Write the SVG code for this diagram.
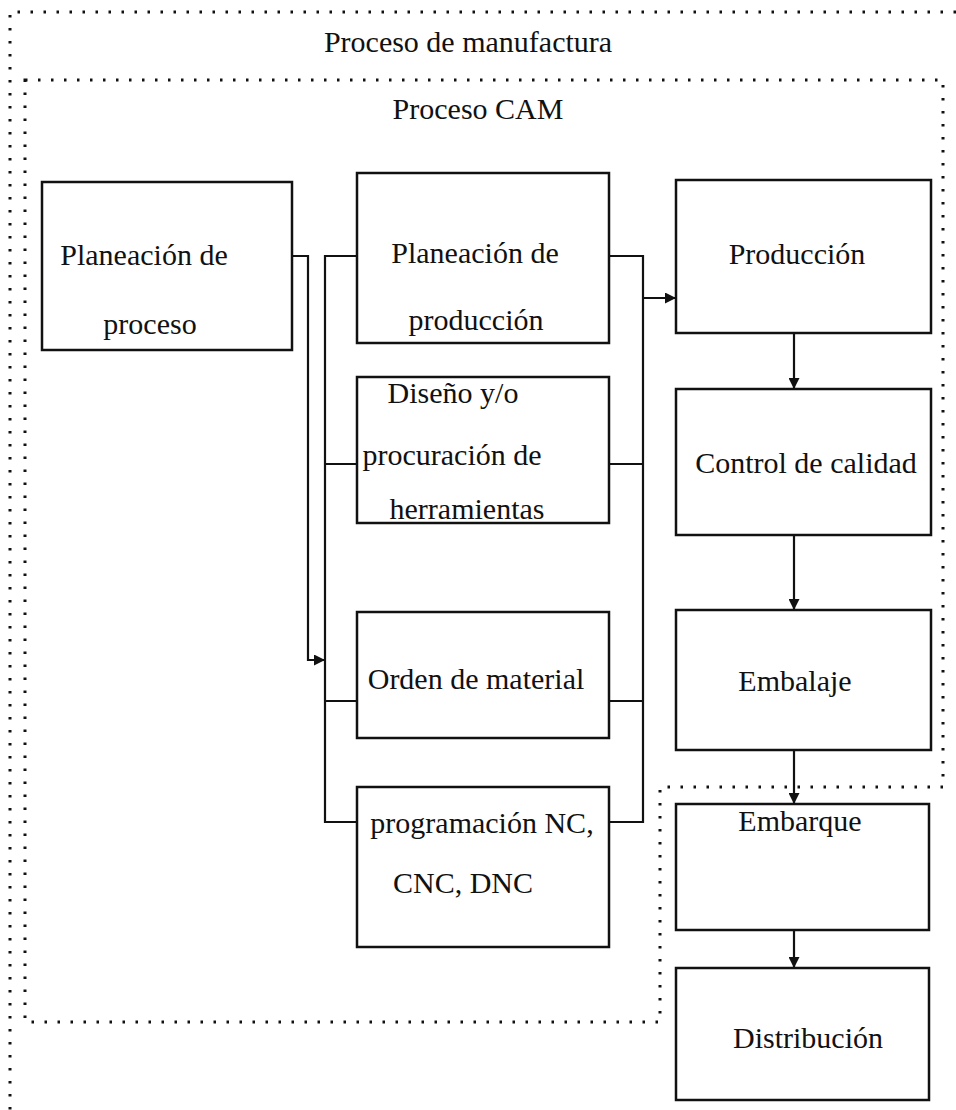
<svg xmlns="http://www.w3.org/2000/svg" width="956" height="1110" viewBox="0 0 956 1110">
  <style>
    .box { fill: #ffffff; stroke: #111111; stroke-width: 2.5; }
    .lbl { font-family: "Liberation Serif", "Times New Roman", serif; font-size: 30px; fill: #111111; text-anchor: middle; }
    .dots { fill: none; stroke: #111111; stroke-width: 3; stroke-dasharray: 2.5 10.5; }
    .wire { fill: none; stroke: #111111; stroke-width: 2.2; }
    .arrow { fill: none; stroke: #111111; stroke-width: 2.2; marker-end: url(#head); }
  </style>
  <defs>
    <marker id="head" viewBox="0 0 10 10" refX="10" refY="5" markerWidth="11" markerHeight="11" markerUnits="userSpaceOnUse" orient="auto">
      <path d="M0,0 L10,5 L0,10 Z" fill="#111111"/>
    </marker>
  </defs>
  <rect width="956" height="1110" fill="#ffffff"/>

  <!-- Dotted process boundaries -->
  <g id="manufactura">
    <path class="dots" d="M956,12 H10 V1110"/>
    <text class="lbl" x="468" y="52">Proceso de manufactura</text>
  </g>
  <g id="cam">
    <path class="dots" d="M25,80 H943 V787 H660 V1022 H25 Z"/>
    <text class="lbl" x="478" y="119">Proceso CAM</text>
  </g>

  <!-- Connectors -->
  <g id="connectors">
    <path class="arrow" d="M292,256 H308 V660 H325"/>
    <path class="wire" d="M357,256 H325 V822 H357 M325,464 H357 M325,701 H357"/>
    <path class="wire" d="M609,256 H643 V822 H609 M609,464 H643 M609,701 H643"/>
    <path class="arrow" d="M643,298 H676"/>
    <path class="arrow" d="M794,333 V389"/>
    <path class="arrow" d="M794,535 V610"/>
    <path class="arrow" d="M794,750 V804"/>
    <path class="arrow" d="M794,930 V968"/>
  </g>

  <!-- Nodes -->
  <g id="planeacion-proceso">
    <rect class="box" x="42" y="182" width="250" height="168"/>
    <text class="lbl" x="144" y="265">Planeación de</text>
    <text class="lbl" x="150" y="334">proceso</text>
  </g>
  <g id="planeacion-produccion">
    <rect class="box" x="357" y="173" width="252" height="170"/>
    <text class="lbl" x="475" y="263">Planeación de</text>
    <text class="lbl" x="476" y="330">producción</text>
  </g>
  <g id="diseno-herramientas">
    <rect class="box" x="357" y="377" width="252" height="146"/>
    <text class="lbl" x="453" y="403">Diseño y/o</text>
    <text class="lbl" x="452" y="465">procuración de</text>
    <text class="lbl" x="467" y="519">herramientas</text>
  </g>
  <g id="orden-material">
    <rect class="box" x="357" y="612" width="252" height="126"/>
    <text class="lbl" x="476" y="689">Orden de material</text>
  </g>
  <g id="programacion-nc">
    <rect class="box" x="357" y="787" width="252" height="160"/>
    <text class="lbl" x="482" y="833">programación NC,</text>
    <text class="lbl" x="463" y="893">CNC, DNC</text>
  </g>
  <g id="produccion">
    <rect class="box" x="676" y="180" width="255" height="153"/>
    <text class="lbl" x="797" y="264">Producción</text>
  </g>
  <g id="control-calidad">
    <rect class="box" x="676" y="389" width="255" height="146"/>
    <text class="lbl" x="806" y="473">Control de calidad</text>
  </g>
  <g id="embalaje">
    <rect class="box" x="676" y="610" width="255" height="140"/>
    <text class="lbl" x="795" y="691">Embalaje</text>
  </g>
  <g id="embarque">
    <rect class="box" x="676" y="804" width="253" height="126"/>
    <text class="lbl" x="800" y="831">Embarque</text>
  </g>
  <g id="distribucion">
    <rect class="box" x="676" y="968" width="253" height="132"/>
    <text class="lbl" x="808" y="1048">Distribución</text>
  </g>
</svg>
